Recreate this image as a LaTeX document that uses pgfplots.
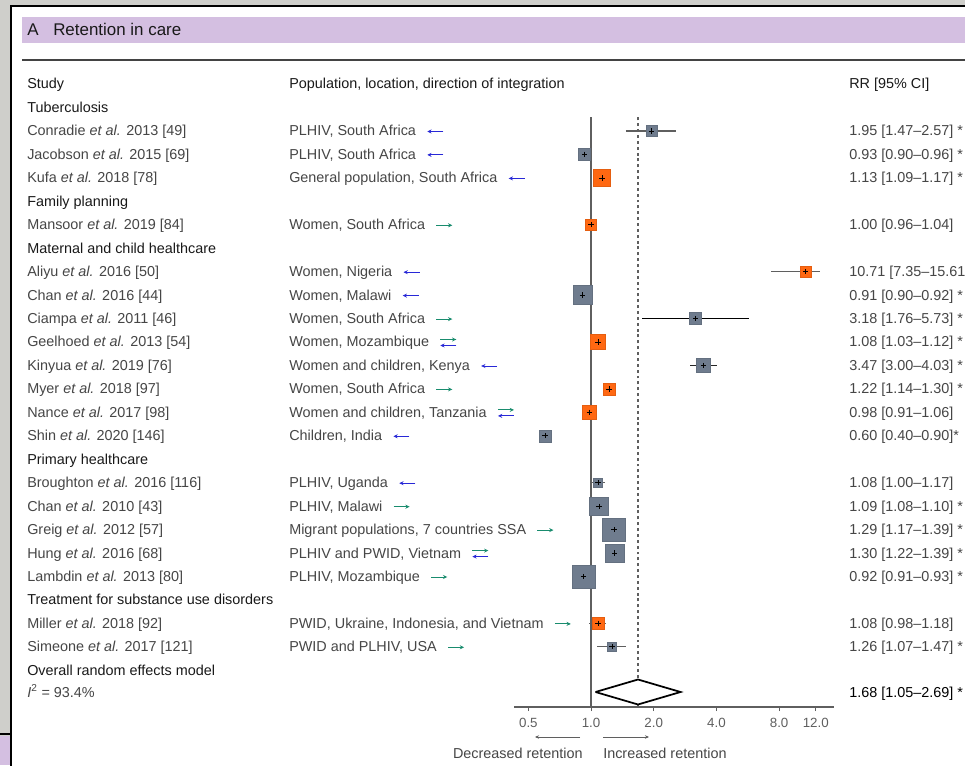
\documentclass[border=0pt]{standalone}
\usepackage{fontspec}
\setmainfont{Liberation Sans}
\usepackage{pgfplots}
\pgfplotsset{compat=1.18}
\usetikzlibrary{arrows.meta}

\definecolor{bggray}{RGB}{207,207,203}
\definecolor{lav}{RGB}{212,191,225}
\definecolor{slate}{RGB}{111,124,142}
\definecolor{orng}{RGB}{255,104,18}
\definecolor{tgray}{RGB}{70,70,70}
\definecolor{hgray}{RGB}{25,25,25}
\definecolor{axgray}{RGB}{95,95,95}
\definecolor{ablue}{RGB}{40,40,215}
\definecolor{agreen}{RGB}{25,140,110}

\newcommand\fs{\fontsize{10.8}{13}\selectfont}

% square, CI line, plus
\newcommand{\sq}[4]{\addplot[only marks, mark=square*, mark size=#4, mark options={fill=#3, draw=#3!90!black, line width=0.3pt}] coordinates {(#1,#2)};}
\newcommand{\ci}[4]{\addplot[#4, no marks] coordinates {(#1,#3) (#2,#3)};}
\newcommand{\pl}[2]{\addplot[only marks, mark=+, mark size=2pt, mark options={black, line width=0.5pt}] coordinates {(#1,#2)};}

\tikzset{
  txt/.style={anchor=base west, inner sep=0pt, font=\fs, text=tgray},
  htxt/.style={anchor=base west, inner sep=0pt, font=\fs, text=hgray},
  larr/.style={-{Stealth[length=3.2pt,width=3pt]}, draw=ablue, line width=0.7pt},
  rarr/.style={-{Stealth[length=3.2pt,width=3pt]}, draw=agreen, line width=0.7pt},
  ciline/.style={draw=axgray, line width=0.8pt},
}
\newcommand\arrL{\draw[larr] ([shift={(27,-4.5)}]p.base east) -- ++(-16,0);}
\newcommand\arrR{\draw[rarr] ([shift={(11,-4.5)}]p.base east) -- ++(16,0);}
\newcommand\arrB{\draw[rarr] ([shift={(11,-7.5)}]p.base east) -- ++(16,0);
                 \draw[larr] ([shift={(27,-1.5)}]p.base east) -- ++(-16,0);}
\newcommand\row[5]{%
  \node[txt] at (27,#1+5) {#2};
  \node[txt] (p) at (289,#1+5) {#3};
  \csname arr#4\endcsname
  \node[txt] at (849,#1+5) {#5};
}

\begin{document}
\begin{tikzpicture}
\useasboundingbox (0,0) rectangle (723.75pt,573.75pt);
% ---------- background
\begin{scope}[x=0.75pt,y=-0.75pt,yshift=573.75pt]
  \fill[bggray] (0,0) rectangle (965,765);
  \fill[white] (11,6) rectangle (965,765);
  \draw[black, line width=1.5pt] (11,766) -- (11,6) -- (966,6);
  \fill[lav] (22,17) rectangle (965,43);
  \draw[axgray!70!black, line width=1.5pt] (22,60.5) -- (965,60.5);
  \draw[black, line width=1.2pt] (0,734) -- (10,734);
  \fill[lav] (0,736) rectangle (10,765);
\end{scope}

% ---------- forest plot
\begin{axis}[
  at={(385.5pt,43.5pt)}, anchor=south west,
  scale only axis, width=240pt, height=442.5pt,
  xmode=log, log basis x=2,
  xmin=0.4265, xmax=14.68, ymin=-707, ymax=-117,
  axis x line=bottom, axis y line=none,
  x axis line style={-, draw=axgray, line width=1.1pt},
  xtick={0.5,1,2,4,8,12}, xticklabels={0.5,1.0,2.0,4.0,8.0,12.0},
  xminorticks=false,
  xticklabel style={font=\fontsize{10}{12}\selectfont, text=axgray, yshift=-2pt},
  tick style={draw=axgray, line width=0.8pt},
  tick align=outside, major tick length=3pt,
  clip=false,
]
% reference lines
\addplot[draw=axgray, line width=0.9pt, no marks] coordinates {(1,-707) (1,-117)};
\addplot[draw=axgray, line width=0.9pt, dash pattern=on 2.2pt off 2.2pt, no marks] coordinates {(1.68,-707) (1.68,-117)};

% Tuberculosis
\sq{1.95}{-131.0}{slate}{4.1pt}  \ci{1.47}{2.57}{-131.0}{ciline}  \pl{1.95}{-131.0}
\sq{0.93}{-154.4}{slate}{4.5pt}  \ci{0.90}{0.96}{-154.4}{ciline}  \pl{0.93}{-154.4}
\sq{1.13}{-177.9}{orng}{6.4pt}   \ci{1.09}{1.17}{-177.9}{ciline}  \pl{1.13}{-177.9}
% Family planning
\sq{1.00}{-224.8}{orng}{4.1pt}   \ci{0.96}{1.04}{-224.8}{ciline}  \pl{1.00}{-224.8}
% Maternal and child healthcare
\sq{10.71}{-271.7}{orng}{4.1pt}  \ci{7.35}{12.6}{-271.7}{ciline}  \pl{10.71}{-271.7}
\sq{0.91}{-295.1}{slate}{7.1pt}  \ci{0.90}{0.92}{-295.1}{ciline}  \pl{0.91}{-295.1}
\sq{3.18}{-318.6}{slate}{4.5pt}  \ci{1.76}{5.73}{-318.6}{draw=black, line width=1.1pt}  \pl{3.18}{-318.6}
\sq{1.08}{-342.0}{orng}{5.6pt}   \ci{1.03}{1.12}{-342.0}{ciline}  \pl{1.08}{-342.0}
\sq{3.47}{-365.5}{slate}{5.2pt}  \ci{3.00}{4.03}{-365.5}{draw=black!85, line width=0.9pt}  \pl{3.47}{-365.5}
\sq{1.22}{-388.9}{orng}{4.5pt}   \ci{1.14}{1.30}{-388.9}{ciline}  \pl{1.22}{-388.9}
\sq{0.98}{-412.4}{orng}{5.2pt}   \ci{0.91}{1.06}{-412.4}{ciline}  \pl{0.98}{-412.4}
\sq{0.60}{-435.8}{slate}{4.5pt}  \pl{0.60}{-435.8}
% Primary healthcare
\sq{1.08}{-482.7}{slate}{3.4pt}  \ci{1.00}{1.17}{-482.7}{ciline}  \pl{1.08}{-482.7}
\sq{1.09}{-506.2}{slate}{7.0pt}  \ci{1.08}{1.10}{-506.2}{ciline}  \pl{1.09}{-506.2}
\sq{1.29}{-529.6}{slate}{8.6pt}  \ci{1.17}{1.39}{-529.6}{ciline}  \pl{1.29}{-529.6}
\sq{1.30}{-553.1}{slate}{7.0pt}  \ci{1.22}{1.39}{-553.1}{ciline}  \pl{1.30}{-553.1}
\sq{0.92}{-576.5}{slate}{8.5pt}  \ci{0.91}{0.93}{-576.5}{ciline}  \pl{0.92}{-576.5}
% Substance use
\sq{1.08}{-623.4}{orng}{4.3pt}   \ci{0.98}{1.18}{-623.4}{ciline}  \pl{1.08}{-623.4}
\sq{1.26}{-646.8}{slate}{3.5pt}  \ci{1.07}{1.47}{-646.8}{ciline}  \pl{1.26}{-646.8}
% overall diamond
\addplot[draw=black, fill=white, line width=1.3pt, line join=miter, no marks]
  coordinates {(1.05,-692) (1.68,-679.5) (2.69,-692) (1.68,-704.5) (1.05,-692)};
\end{axis}

% ---------- texts
\begin{scope}[x=0.75pt,y=-0.75pt,yshift=573.75pt]
  \clip (0,0) rectangle (965,765);
  \node[anchor=base west, inner sep=0pt, font=\fontsize{12.7}{15}\selectfont, text=hgray] at (27,36) {A};
  \node[anchor=base west, inner sep=0pt, font=\fontsize{12.7}{15}\selectfont, text=hgray] at (53,36) {Retention in care};

  \node[htxt] at (27,89) {Study};
  \node[htxt] at (289,89) {Population, location, direction of integration};
  \node[htxt] at (849,89) {RR [95\% CI]};

  \node[htxt] at (27,112.5) {Tuberculosis};
  \row{131.0}{Conradie \textit{et al.} 2013 [49]}{PLHIV, South Africa}{L}{1.95 [1.47–2.57] *}
  \row{154.4}{Jacobson \textit{et al.} 2015 [69]}{PLHIV, South Africa}{L}{0.93 [0.90–0.96] *}
  \row{177.9}{Kufa \textit{et al.} 2018 [78]}{General population, South Africa}{L}{1.13 [1.09–1.17] *}
  \node[htxt] at (27,206.3) {Family planning};
  \row{224.8}{Mansoor \textit{et al.} 2019 [84]}{Women, South Africa}{R}{1.00 [0.96–1.04]}
  \node[htxt] at (27,253.2) {Maternal and child healthcare};
  \row{271.7}{Aliyu \textit{et al.} 2016 [50]}{Women, Nigeria}{L}{10.71 [7.35–15.61] *}
  \row{295.1}{Chan \textit{et al.} 2016 [44]}{Women, Malawi}{L}{0.91 [0.90–0.92] *}
  \row{318.6}{Ciampa \textit{et al.} 2011 [46]}{Women, South Africa}{R}{3.18 [1.76–5.73] *}
  \row{342.0}{Geelhoed \textit{et al.} 2013 [54]}{Women, Mozambique}{B}{1.08 [1.03–1.12] *}
  \row{365.5}{Kinyua \textit{et al.} 2019 [76]}{Women and children, Kenya}{L}{3.47 [3.00–4.03] *}
  \row{388.9}{Myer \textit{et al.} 2018 [97]}{Women, South Africa}{R}{1.22 [1.14–1.30] *}
  \row{412.4}{Nance \textit{et al.} 2017 [98]}{Women and children, Tanzania}{B}{0.98 [0.91–1.06]}
  \row{435.8}{Shin \textit{et al.} 2020 [146]}{Children, India}{L}{0.60 [0.40–0.90]*}
  \node[htxt] at (27,464.3) {Primary healthcare};
  \row{482.7}{Broughton \textit{et al.} 2016 [116]}{PLHIV, Uganda}{L}{1.08 [1.00–1.17]}
  \row{506.2}{Chan \textit{et al.} 2010 [43]}{PLHIV, Malawi}{R}{1.09 [1.08–1.10] *}
  \row{529.6}{Greig \textit{et al.} 2012 [57]}{Migrant populations, 7 countries SSA}{R}{1.29 [1.17–1.39] *}
  \row{553.1}{Hung \textit{et al.} 2016 [68]}{PLHIV and PWID, Vietnam}{B}{1.30 [1.22–1.39] *}
  \row{576.5}{Lambdin \textit{et al.} 2013 [80]}{PLHIV, Mozambique}{R}{0.92 [0.91–0.93] *}
  \node[htxt] at (27,604.9) {Treatment for substance use disorders};
  \row{623.4}{Miller \textit{et al.} 2018 [92]}{PWID, Ukraine, Indonesia, and Vietnam}{R}{1.08 [0.98–1.18]}
  \row{646.8}{Simeone \textit{et al.} 2017 [121]}{PWID and PLHIV, USA}{R}{1.26 [1.07–1.47] *}
  \node[htxt] at (27,675.3) {Overall random effects model};
  \node[txt] at (27,697) {\textit{I}\textsuperscript{2} = 93.4\%};
  \node[anchor=base west, inner sep=0pt, font=\fs, text=black] at (849,697) {1.68 [1.05–2.69] *};

  % direction arrows under axis
  \draw[-{Stealth[length=3pt,width=2.6pt]}, draw=axgray, line width=0.6pt] (580,737) -- (535,737);
  \draw[-{Stealth[length=3pt,width=2.6pt]}, draw=axgray, line width=0.6pt] (603,737) -- (649,737);
  \node[anchor=base east, inner sep=0pt, font=\fs, text=tgray] at (583,758) {Decreased retention};
  \node[anchor=base west, inner sep=0pt, font=\fs, text=tgray] at (603,758) {Increased retention};
\end{scope}
\end{tikzpicture}
\end{document}
